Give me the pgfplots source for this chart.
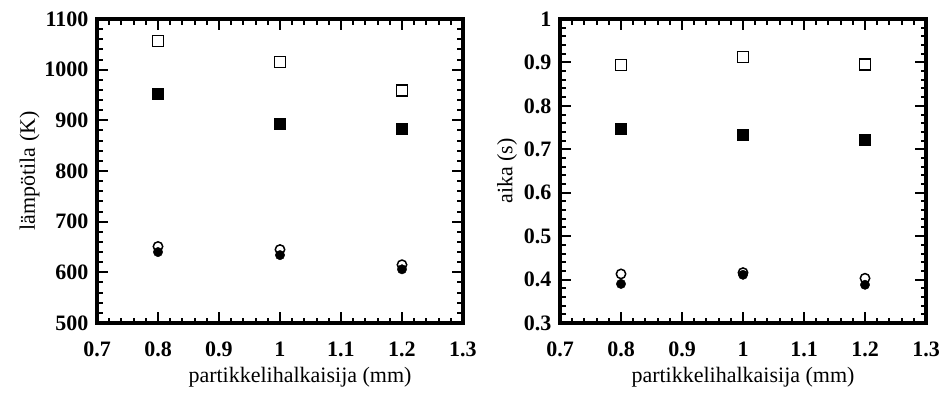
\documentclass[border=0pt]{standalone}
\usepackage{fontspec}
\setmainfont{Liberation Serif}
\usepackage{pgfplots}
\pgfplotsset{compat=1.18}
\pgfplotsset{
 myax/.style={
  scale only axis, width=366pt, height=304pt,
  xmin=0.7, xmax=1.3, xtick={0.7,0.8,0.9,1,1.1,1.2,1.3},
  minor x tick num=4, minor y tick num=4,
  tick align=inside, major tick length=11pt, minor tick length=5.5pt,
  every tick/.style={black, line width=2pt},
  axis line style={line width=3.5pt},
  tick label style={font=\bfseries\fontsize{22}{26}\selectfont},
  /pgf/number format/assume math mode=true,
  /pgf/number format/1000 sep={},
  scaled ticks=false,
  label style={font=\fontsize{22}{26}\selectfont},
  xticklabel shift=15pt, yticklabel shift=5pt,
  xlabel style={yshift=-4pt},
  clip=false,
 },
 osq/.style={only marks, mark=square*, mark size=5.5pt, mark options={fill=white, draw=black, line width=1.5pt}},
 fsq/.style={only marks, mark=square*, mark size=5.5pt, mark options={fill=black, draw=black}},
 oci/.style={only marks, mark=*, mark size=4.7pt, mark options={fill=white, draw=black, line width=1.5pt}},
 fci/.style={only marks, mark=*, mark size=4.7pt, mark options={fill=black, draw=black}},
}
\begin{document}
\begin{tikzpicture}
\useasboundingbox (0,0) rectangle (944pt,392pt);
\begin{axis}[myax, at={(97pt,69pt)}, anchor=south west,
  ymin=500, ymax=1100, ytick={500,600,700,800,900,1000,1100},
  xlabel={partikkelihalkaisija (mm)}, ylabel={lämpötila (K)},
  xlabel style={xshift=20pt}, ylabel style={yshift=-2pt}]
\addplot[osq] coordinates {(0.8,1057) (1.0,1015) (1.2,959)};
\addplot[fsq] coordinates {(0.8,953) (1.0,894) (1.2,884)};
\addplot[oci] coordinates {(0.8,651) (1.0,645) (1.2,615)};
\addplot[fci] coordinates {(0.8,640) (1.0,634) (1.2,606)};
\end{axis}
\begin{axis}[myax, at={(560pt,69pt)}, anchor=south west,
  ymin=0.3, ymax=1, ytick={0.3,0.4,0.5,0.6,0.7,0.8,0.9,1},
  xlabel={partikkelihalkaisija (mm)}, ylabel={aika (s)}]
\addplot[osq] coordinates {(0.8,0.894) (1.0,0.913) (1.2,0.895)};
\addplot[fsq] coordinates {(0.8,0.747) (1.0,0.733) (1.2,0.723)};
\addplot[oci] coordinates {(0.8,0.413) (1.0,0.416) (1.2,0.403)};
\addplot[fci] coordinates {(0.8,0.390) (1.0,0.411) (1.2,0.388)};
\end{axis}
\end{tikzpicture}
\end{document}
